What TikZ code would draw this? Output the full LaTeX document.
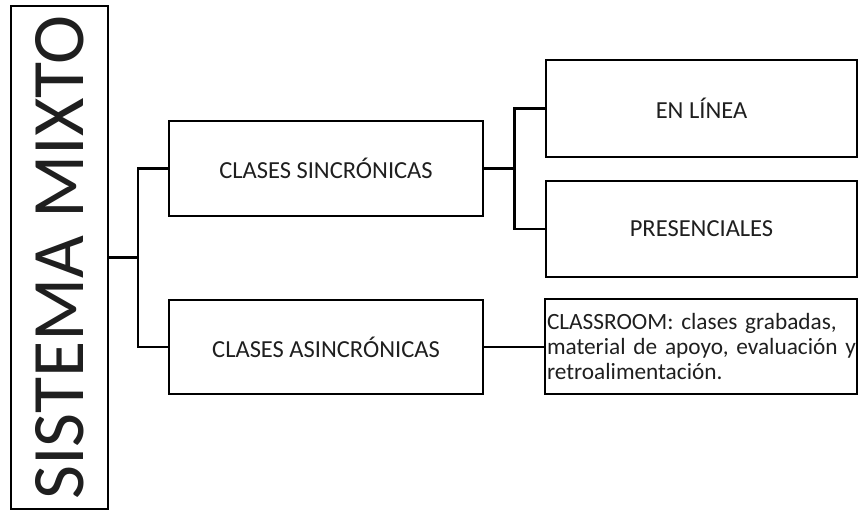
\documentclass[tikz,border=0pt]{standalone}
\usepackage{fontspec}
\setmainfont{Carlito}
\begin{document}
\begin{tikzpicture}[x=1pt,y=-1pt,
  box/.style={draw, line width=2.2pt, rectangle, inner sep=0pt, outer sep=0pt,
              font=\fontsize{24.5}{25}\selectfont, text=black!88},
  link/.style={line width=2.2pt}]
\useasboundingbox (0,0) rectangle (858,510);
% main box
\node[box, minimum width=97pt, minimum height=503pt, font=\fontsize{74}{80}\selectfont] (sis) at (59.5,257.5)
  {\rotatebox{90}{SISTEMA MIXTO}\hspace{7pt}};
% level 1
\node[box, minimum width=314pt, minimum height=95pt] (sync) at (326,168.5) {CLASES SINCRÓNICAS};
\node[box, minimum width=314pt, minimum height=94pt] (async) at (326,347) {CLASES ASINCRÓNICAS};
% level 2
\node[box, minimum width=311pt, minimum height=97pt] (linea) at (701.5,108.5) {EN LÍNEA};
\node[box, minimum width=311pt, minimum height=96pt] (pres) at (701.5,229) {PRESENCIALES};
\node[box, minimum width=312pt, minimum height=95pt, text width=308pt, inner xsep=2pt, align=left,
      font=\fontsize{23.3}{25}\selectfont] (class) at (701,346.5)
  {\mbox{CLASSROOM: clases grabadas,}\\ \mbox{material de apoyo, evaluación y}\\ \mbox{retroalimentación.}};
% connectors
\coordinate (j1) at (138,257.5);
\coordinate (j2) at (514.5,169);
\draw[link] (sis.east) -- (j1);
\draw[link] (sync.west) -| (j1) |- (async.west);
\draw[link] (sync.east) -- (sync.east -| j2);
\draw[link] (linea.west) -| (j2) |- (pres.west);
\draw[link] (async.east) -- (async.east -| class.west);
\end{tikzpicture}
\end{document}
